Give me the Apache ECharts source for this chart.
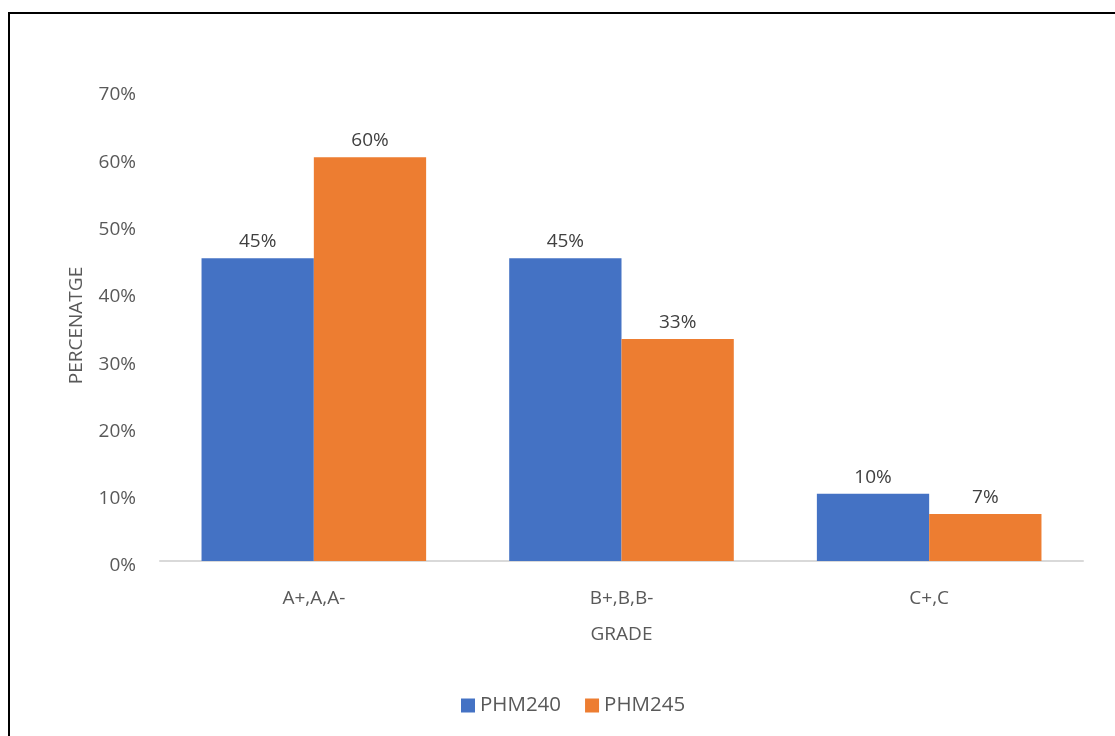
<!DOCTYPE html>
<html>
<head>
<meta charset="utf-8">
<script src="https://cdn.jsdelivr.net/npm/echarts@6/dist/echarts.min.js"></script>
<style>
  html, body { margin: 0; padding: 0; background: #fff; }
  #frame { position: absolute; left: 8px; top: 12px; width: 1200px; height: 800px; border: 2px solid #000; box-sizing: border-box; }
  #chart { position: absolute; left: 0; top: 0; width: 1115px; height: 736px; }
</style>
</head>
<body>
<div id="frame"></div>
<div id="chart"></div>
<script>
// grade groups
let grades = ["A+,A,A-", "B+,B,B-", "C+,C"];
let phm240 = [45, 45, 10];
let phm245 = [60, 33, 7];
let yTicks = [0, 10, 20, 30, 40, 50, 60, 70];

let font = "'Open Sans', 'Noto Sans', sans-serif";

let myChart = echarts.init(document.getElementById("chart"));
let option = {
    animation: false,
    textStyle: { fontFamily: font },
    grid: { left: 160, right: 32, top: 90, bottom: 175, containLabel: false },
    legend: {
        bottom: 15,
        left: 456,
        itemWidth: 14,
        itemHeight: 14,
        itemGap: 24,
        icon: "rect",
        textStyle: { fontSize: 20.5, color: "#595959", fontFamily: font },
        data: ["PHM240", "PHM245"]
    },
    xAxis: {
        type: "category",
        data: grades,
        name: "GRADE",
        nameLocation: "middle",
        nameGap: 64,
        nameTextStyle: { fontSize: 19, color: "#595959" },
        axisLine: { lineStyle: { color: "#d9d9d9", width: 2 } },
        axisTick: { show: false },
        axisLabel: { fontSize: 19, color: "#595959", margin: 28 }
    },
    yAxis: {
        type: "value",
        min: yTicks[0],
        max: yTicks[yTicks.length - 1],
        interval: 10,
        name: "PERCENATGE",
        nameLocation: "middle",
        nameGap: 74,
        nameRotate: 90,
        nameTextStyle: { fontSize: 19, color: "#595959" },
        axisLine: { show: false },
        axisTick: { show: false },
        splitLine: { show: false },
        axisLabel: { fontSize: 19, color: "#595959", margin: 24, verticalAlign: "top", lineHeight: 10, formatter: "{value}%" }
    },
    series: [
        {
            name: "PHM240",
            type: "bar",
            data: phm240,
            barGap: "0%",
            barCategoryGap: "27%",
            itemStyle: { color: "#4472C4" },
            label: { show: true, position: "top", distance: 7, fontSize: 19, color: "#404040", formatter: "{c}%" }
        },
        {
            name: "PHM245",
            type: "bar",
            data: phm245,
            barGap: "0%",
            barCategoryGap: "27%",
            itemStyle: { color: "#ED7D31" },
            label: { show: true, position: "top", distance: 7, fontSize: 19, color: "#404040", formatter: "{c}%" }
        }
    ]
};
myChart.setOption(option);
</script>
</body>
</html>
